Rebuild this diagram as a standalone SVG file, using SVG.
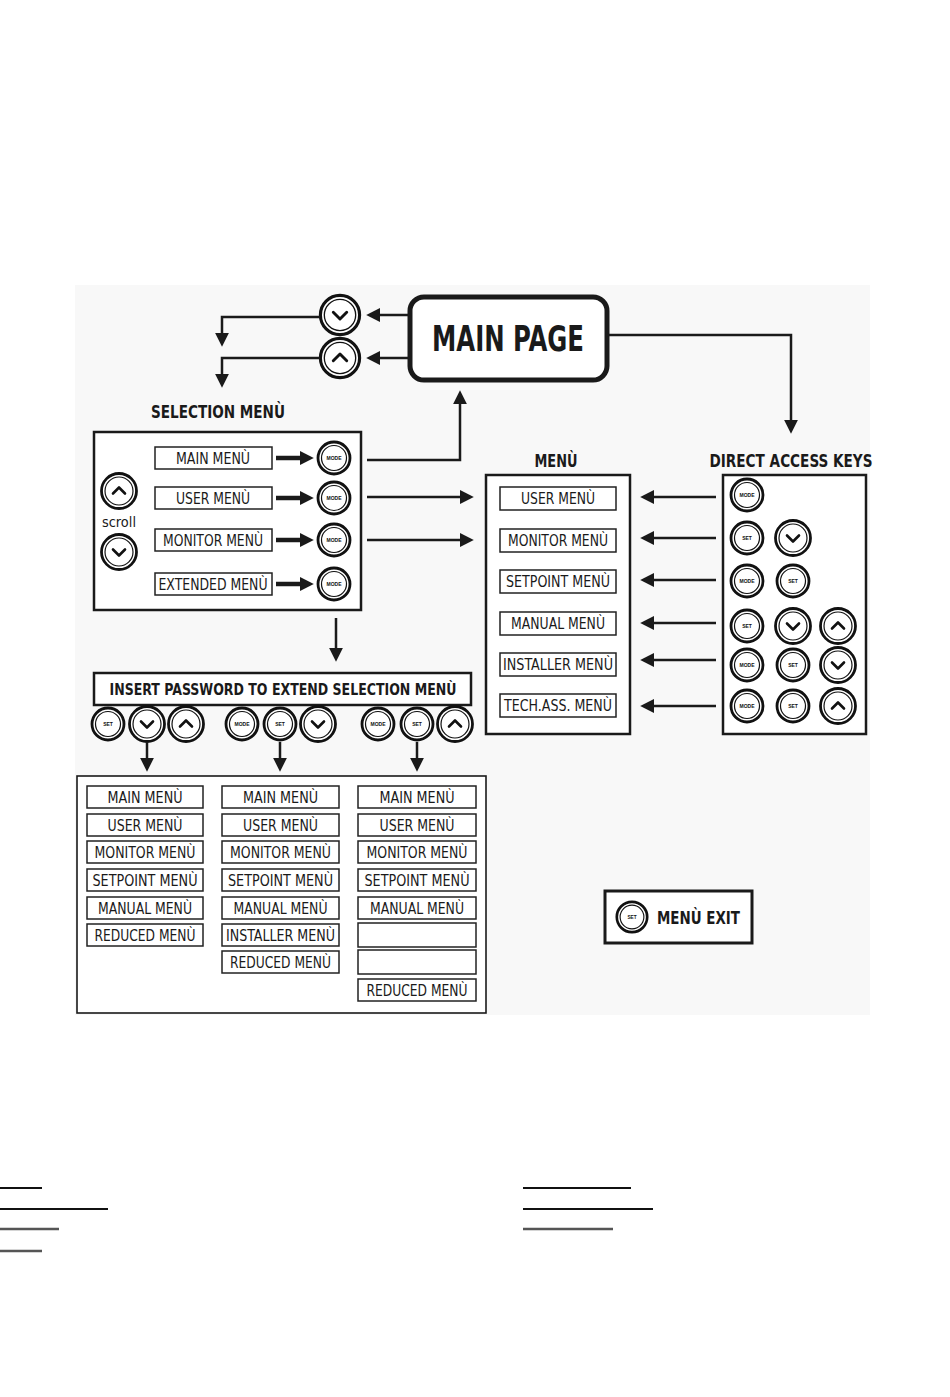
<svg xmlns="http://www.w3.org/2000/svg" width="950" height="1397" viewBox="0 0 950 1397">
<style>
.bg{fill:#f8f8f8}
.box{fill:#fff;stroke:#1a1a1a;stroke-width:2.5}
.thin{fill:#fff;stroke:#1a1a1a;stroke-width:1.6}
.itm{fill:#fff;stroke:#222;stroke-width:1.5}
.t{font-family:"Liberation Sans Narrow","DejaVu Sans Condensed","Liberation Sans",sans-serif;font-size:15px;fill:#1a1a1a;text-anchor:middle}
.h{font-family:"Liberation Sans Narrow","DejaVu Sans Condensed","Liberation Sans",sans-serif;font-weight:bold;font-size:17px;fill:#1a1a1a;text-anchor:middle}
.big{font-size:35px}
.ip{font-size:15.5px}
.sc{font-size:14px}
.con{fill:none;stroke:#1a1a1a;stroke-width:2.5}
.thick{stroke-width:4.5}
.bo{fill:#fff;stroke:#111;stroke-width:2.8}
.bi{fill:#fff;stroke:#111;stroke-width:1.2}
.bl{font-family:"Liberation Sans",sans-serif;font-weight:bold;font-size:5px;fill:#111;text-anchor:middle}
.chev{fill:none;stroke:#111;stroke-width:2.6;stroke-linecap:round;stroke-linejoin:round}
.rule{stroke:#111;stroke-width:2}
.rule2{stroke:#555;stroke-width:2.5}
</style>
<defs>
<marker id="ah" viewBox="0 0 10 10" refX="3" refY="5" markerWidth="14" markerHeight="14" markerUnits="userSpaceOnUse" orient="auto">
<path d="M0,0 L10,5 L0,10 z" fill="#1a1a1a"/>
</marker>
<g id="bMode"><circle r="16" class="bo"/><circle r="12.5" class="bi"/><text class="bl" y="1.8">MODE</text></g>
<g id="bSet"><circle r="16" class="bo"/><circle r="12.5" class="bi"/><text class="bl" y="1.8">SET</text></g>
<g id="bDown"><circle r="17.5" class="bo"/><circle r="14" class="bi"/><path class="chev" d="M-6,-2.5 L0,3.5 L6,-2.5"/></g>
<g id="bUp"><circle r="17.5" class="bo"/><circle r="14" class="bi"/><path class="chev" d="M-6,2.5 L0,-3.5 L6,2.5"/></g>
</defs>

<rect class="bg" x="75" y="285" width="795" height="730"/>

<g id="main-page">
<rect x="410" y="297" width="197" height="83" rx="14" fill="#fff" stroke="#1a1a1a" stroke-width="5"/>
<text class="h big" x="508" y="351" textLength="152" lengthAdjust="spacingAndGlyphs">MAIN PAGE</text>
</g>

<g id="top-keys">
<use href="#bDown" transform="translate(340,315) scale(1.12)"/>
<use href="#bUp" transform="translate(340,358) scale(1.12)"/>
</g>

<g id="selection-menu">
<text class="h" x="218" y="418" textLength="134" lengthAdjust="spacingAndGlyphs">SELECTION MENÙ</text>
<rect class="box" x="94" y="432" width="267" height="178"/>
<use href="#bUp" x="119" y="491"/>
<text class="t sc" x="119" y="527" textLength="34" lengthAdjust="spacingAndGlyphs">scroll</text>
<use href="#bDown" x="119" y="552"/>
<rect class="itm" x="155" y="447" width="117" height="22"/>
<text class="t" x="213" y="463.5" textLength="74" lengthAdjust="spacingAndGlyphs">MAIN MENÙ</text>
<rect class="itm" x="155" y="487" width="117" height="22"/>
<text class="t" x="213" y="503.5" textLength="74" lengthAdjust="spacingAndGlyphs">USER MENÙ</text>
<rect class="itm" x="155" y="529" width="117" height="22"/>
<text class="t" x="213" y="545.5" textLength="100" lengthAdjust="spacingAndGlyphs">MONITOR MENÙ</text>
<rect class="itm" x="155" y="573" width="117" height="22"/>
<text class="t" x="213" y="589.5" textLength="109" lengthAdjust="spacingAndGlyphs">EXTENDED MENÙ</text>
<use href="#bMode" x="334" y="458"/>
<use href="#bMode" x="334" y="498"/>
<use href="#bMode" x="334" y="540"/>
<use href="#bMode" x="334" y="584"/>
</g>

<g id="menu">
<text class="h" x="556" y="467" textLength="43" lengthAdjust="spacingAndGlyphs">MENÙ</text>
<rect class="box" x="486" y="475" width="144" height="259"/>
<rect class="itm" x="500" y="487" width="116" height="23"/>
<text class="t" x="558" y="504" textLength="74" lengthAdjust="spacingAndGlyphs">USER MENÙ</text>
<rect class="itm" x="500" y="529" width="116" height="23"/>
<text class="t" x="558" y="546" textLength="100" lengthAdjust="spacingAndGlyphs">MONITOR MENÙ</text>
<rect class="itm" x="500" y="570" width="116" height="23"/>
<text class="t" x="558" y="587" textLength="104" lengthAdjust="spacingAndGlyphs">SETPOINT MENÙ</text>
<rect class="itm" x="500" y="612" width="116" height="23"/>
<text class="t" x="558" y="629" textLength="94" lengthAdjust="spacingAndGlyphs">MANUAL MENÙ</text>
<rect class="itm" x="500" y="653" width="116" height="23"/>
<text class="t" x="558" y="670" textLength="110" lengthAdjust="spacingAndGlyphs">INSTALLER MENÙ</text>
<rect class="itm" x="500" y="694" width="116" height="23"/>
<text class="t" x="558" y="711" textLength="108" lengthAdjust="spacingAndGlyphs">TECH.ASS. MENÙ</text>
</g>

<g id="direct-access-keys">
<text class="h" x="791" y="467" textLength="163" lengthAdjust="spacingAndGlyphs">DIRECT ACCESS KEYS</text>
<rect class="box" x="723" y="475" width="143" height="259"/>
<use href="#bMode" x="747" y="495"/>
<use href="#bSet" x="747" y="538"/>
<use href="#bDown" x="793" y="538"/>
<use href="#bMode" x="747" y="581"/>
<use href="#bSet" x="793" y="581"/>
<use href="#bSet" x="747" y="626"/>
<use href="#bDown" x="793" y="626"/>
<use href="#bUp" x="838" y="626"/>
<use href="#bMode" x="747" y="665"/>
<use href="#bSet" x="793" y="665"/>
<use href="#bDown" x="838" y="665"/>
<use href="#bMode" x="747" y="706"/>
<use href="#bSet" x="793" y="706"/>
<use href="#bUp" x="838" y="706"/>
</g>

<g id="insert-password">
<rect class="box" x="94" y="673" width="377" height="32"/>
<text class="h ip" x="283" y="694.5" textLength="347" lengthAdjust="spacingAndGlyphs">INSERT PASSWORD TO EXTEND SELECTION MENÙ</text>
</g>

<g id="password-keys">
<use href="#bSet" x="108" y="724"/>
<use href="#bDown" x="147" y="724"/>
<use href="#bUp" x="186" y="724"/>
<use href="#bMode" x="242" y="724"/>
<use href="#bSet" x="280" y="724"/>
<use href="#bDown" x="318" y="724"/>
<use href="#bMode" x="378" y="724"/>
<use href="#bSet" x="417" y="724"/>
<use href="#bUp" x="455" y="724"/>
</g>

<g id="extended-menus">
<rect class="thin" x="77" y="776" width="409" height="237"/>
<g id="col1">
<rect class="itm" x="87" y="786" width="116" height="22"/><text class="t" x="145" y="802.5" textLength="75" lengthAdjust="spacingAndGlyphs">MAIN MENÙ</text>
<rect class="itm" x="87" y="814" width="116" height="22"/><text class="t" x="145" y="830.5" textLength="75" lengthAdjust="spacingAndGlyphs">USER MENÙ</text>
<rect class="itm" x="87" y="841" width="116" height="22"/><text class="t" x="145" y="857.5" textLength="101" lengthAdjust="spacingAndGlyphs">MONITOR MENÙ</text>
<rect class="itm" x="87" y="869" width="116" height="22"/><text class="t" x="145" y="885.5" textLength="105" lengthAdjust="spacingAndGlyphs">SETPOINT MENÙ</text>
<rect class="itm" x="87" y="897" width="116" height="22"/><text class="t" x="145" y="913.5" textLength="94" lengthAdjust="spacingAndGlyphs">MANUAL MENÙ</text>
<rect class="itm" x="87" y="924" width="116" height="22"/><text class="t" x="145" y="940.5" textLength="101" lengthAdjust="spacingAndGlyphs">REDUCED MENÙ</text>
</g>
<g id="col2">
<rect class="itm" x="222" y="786" width="117" height="22"/><text class="t" x="280.5" y="802.5" textLength="75" lengthAdjust="spacingAndGlyphs">MAIN MENÙ</text>
<rect class="itm" x="222" y="814" width="117" height="22"/><text class="t" x="280.5" y="830.5" textLength="75" lengthAdjust="spacingAndGlyphs">USER MENÙ</text>
<rect class="itm" x="222" y="841" width="117" height="22"/><text class="t" x="280.5" y="857.5" textLength="101" lengthAdjust="spacingAndGlyphs">MONITOR MENÙ</text>
<rect class="itm" x="222" y="869" width="117" height="22"/><text class="t" x="280.5" y="885.5" textLength="105" lengthAdjust="spacingAndGlyphs">SETPOINT MENÙ</text>
<rect class="itm" x="222" y="897" width="117" height="22"/><text class="t" x="280.5" y="913.5" textLength="94" lengthAdjust="spacingAndGlyphs">MANUAL MENÙ</text>
<rect class="itm" x="222" y="924" width="117" height="22"/><text class="t" x="280.5" y="940.5" textLength="109" lengthAdjust="spacingAndGlyphs">INSTALLER MENÙ</text>
<rect class="itm" x="222" y="951" width="117" height="22"/><text class="t" x="280.5" y="967.5" textLength="101" lengthAdjust="spacingAndGlyphs">REDUCED MENÙ</text>
</g>
<g id="col3">
<rect class="itm" x="358" y="786" width="118" height="22"/><text class="t" x="417" y="802.5" textLength="75" lengthAdjust="spacingAndGlyphs">MAIN MENÙ</text>
<rect class="itm" x="358" y="814" width="118" height="22"/><text class="t" x="417" y="830.5" textLength="75" lengthAdjust="spacingAndGlyphs">USER MENÙ</text>
<rect class="itm" x="358" y="841" width="118" height="22"/><text class="t" x="417" y="857.5" textLength="101" lengthAdjust="spacingAndGlyphs">MONITOR MENÙ</text>
<rect class="itm" x="358" y="869" width="118" height="22"/><text class="t" x="417" y="885.5" textLength="105" lengthAdjust="spacingAndGlyphs">SETPOINT MENÙ</text>
<rect class="itm" x="358" y="897" width="118" height="22"/><text class="t" x="417" y="913.5" textLength="94" lengthAdjust="spacingAndGlyphs">MANUAL MENÙ</text>
<rect class="itm" x="358" y="923" width="118" height="24"/>
<rect class="itm" x="358" y="950" width="118" height="24"/>
<rect class="itm" x="358" y="979" width="118" height="22"/><text class="t" x="417" y="995.5" textLength="101" lengthAdjust="spacingAndGlyphs">REDUCED MENÙ</text>
</g>
</g>

<g id="menu-exit">
<rect x="605" y="891" width="147" height="52" fill="#fff" stroke="#1a1a1a" stroke-width="3"/>
<use href="#bSet" transform="translate(632,917) scale(0.95)"/>
<text class="h" x="698.5" y="924" textLength="83" lengthAdjust="spacingAndGlyphs">MENÙ EXIT</text>
</g>

<g id="connectors">
<path class="con" marker-end="url(#ah)" d="M410,315 H376"/>
<path class="con" marker-end="url(#ah)" d="M410,358 H376"/>
<path class="con" marker-end="url(#ah)" d="M320,317 H222 V337"/>
<path class="con" marker-end="url(#ah)" d="M320,358 H222 V378"/>
<path class="con" marker-end="url(#ah)" d="M607,335 H791 V424"/>
<path class="con" marker-end="url(#ah)" d="M367,460 H460 V400"/>
<path class="con" marker-end="url(#ah)" d="M367,497 H464"/>
<path class="con" marker-end="url(#ah)" d="M367,540 H464"/>
<path class="con thick" marker-end="url(#ah)" d="M276,458 H304"/>
<path class="con thick" marker-end="url(#ah)" d="M276,498 H304"/>
<path class="con thick" marker-end="url(#ah)" d="M276,540 H304"/>
<path class="con thick" marker-end="url(#ah)" d="M276,584 H304"/>
<path class="con" marker-end="url(#ah)" d="M336,618 V652"/>
<path class="con" marker-end="url(#ah)" d="M716,497 H650"/>
<path class="con" marker-end="url(#ah)" d="M716,538 H650"/>
<path class="con" marker-end="url(#ah)" d="M716,580 H650"/>
<path class="con" marker-end="url(#ah)" d="M716,623 H650"/>
<path class="con" marker-end="url(#ah)" d="M716,660 H650"/>
<path class="con" marker-end="url(#ah)" d="M716,706 H650"/>
<path class="con" marker-end="url(#ah)" d="M147,742 V762"/>
<path class="con" marker-end="url(#ah)" d="M280,742 V762"/>
<path class="con" marker-end="url(#ah)" d="M417,742 V762"/>
</g>

<g id="rules">
<line class="rule" x1="0" y1="1188" x2="42" y2="1188"/>
<line class="rule" x1="0" y1="1209" x2="108" y2="1209"/>
<line class="rule2" x1="0" y1="1229" x2="59" y2="1229"/>
<line class="rule2" x1="0" y1="1251" x2="42" y2="1251"/>
<line class="rule" x1="523" y1="1188" x2="631" y2="1188"/>
<line class="rule" x1="523" y1="1209" x2="653" y2="1209"/>
<line class="rule2" x1="523" y1="1229" x2="613" y2="1229"/>
</g>
</svg>
